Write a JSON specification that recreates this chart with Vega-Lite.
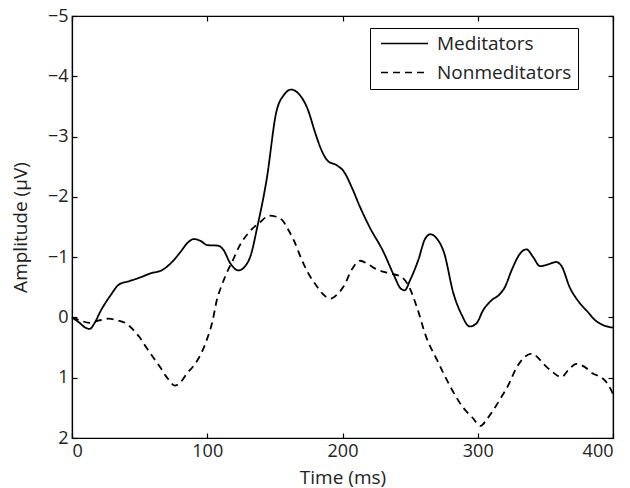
{
  "$schema": "https://vega.github.io/schema/vega-lite/v6.json",
  "autosize": "none",
  "width": 541,
  "height": 422,
  "padding": {"left": 72, "top": 16, "right": 17, "bottom": 50},
  "background": "white",
  "config": {
    "font": "Open Sans",
    "view": {"stroke": "black", "strokeWidth": 1.2},
    "axis": {
      "domainColor": "black", "domainWidth": 1.2,
      "tickColor": "black", "tickWidth": 1.2, "tickSize": -5,
      "labelFont": "Open Sans", "labelFontSize": 18, "labelColor": "#222",
      "titleFont": "Open Sans", "titleFontSize": 19, "titleFontWeight": "normal", "titleColor": "#222",
      "grid": false
    },
    "legend": {
      "labelFont": "Open Sans", "labelFontSize": 19, "labelColor": "#222"
    }
  },
  "data": {"values": [
    {"t":0,"v":0,"g":"Meditators"},{"t":5,"v":0.08,"g":"Meditators"},{"t":10,"v":0.17,"g":"Meditators"},{"t":13,"v":0.19,"g":"Meditators"},{"t":17,"v":0.08,"g":"Meditators"},{"t":21,"v":-0.1,"g":"Meditators"},{"t":28,"v":-0.35,"g":"Meditators"},{"t":35,"v":-0.55,"g":"Meditators"},{"t":42,"v":-0.6,"g":"Meditators"},{"t":50,"v":-0.66,"g":"Meditators"},{"t":58,"v":-0.73,"g":"Meditators"},{"t":67,"v":-0.79,"g":"Meditators"},{"t":74,"v":-0.92,"g":"Meditators"},{"t":80,"v":-1.08,"g":"Meditators"},{"t":86,"v":-1.25,"g":"Meditators"},{"t":90,"v":-1.3,"g":"Meditators"},{"t":95,"v":-1.27,"g":"Meditators"},{"t":100,"v":-1.2,"g":"Meditators"},{"t":108,"v":-1.19,"g":"Meditators"},{"t":112,"v":-1.12,"g":"Meditators"},{"t":117,"v":-0.9,"g":"Meditators"},{"t":123,"v":-0.78,"g":"Meditators"},{"t":128,"v":-0.85,"g":"Meditators"},{"t":132,"v":-1.02,"g":"Meditators"},{"t":137,"v":-1.5,"g":"Meditators"},{"t":144,"v":-2.3,"g":"Meditators"},{"t":151,"v":-3.4,"g":"Meditators"},{"t":157,"v":-3.7,"g":"Meditators"},{"t":162,"v":-3.78,"g":"Meditators"},{"t":168,"v":-3.7,"g":"Meditators"},{"t":174,"v":-3.47,"g":"Meditators"},{"t":180,"v":-3.05,"g":"Meditators"},{"t":184,"v":-2.8,"g":"Meditators"},{"t":189,"v":-2.6,"g":"Meditators"},{"t":196,"v":-2.52,"g":"Meditators"},{"t":201,"v":-2.42,"g":"Meditators"},{"t":207,"v":-2.15,"g":"Meditators"},{"t":213,"v":-1.83,"g":"Meditators"},{"t":220,"v":-1.5,"g":"Meditators"},{"t":230,"v":-1.1,"g":"Meditators"},{"t":238,"v":-0.7,"g":"Meditators"},{"t":243,"v":-0.48,"g":"Meditators"},{"t":246,"v":-0.45,"g":"Meditators"},{"t":250,"v":-0.62,"g":"Meditators"},{"t":256,"v":-0.95,"g":"Meditators"},{"t":261,"v":-1.3,"g":"Meditators"},{"t":265,"v":-1.38,"g":"Meditators"},{"t":270,"v":-1.3,"g":"Meditators"},{"t":275,"v":-1.08,"g":"Meditators"},{"t":282,"v":-0.4,"g":"Meditators"},{"t":288,"v":-0.05,"g":"Meditators"},{"t":294,"v":0.15,"g":"Meditators"},{"t":299,"v":0.1,"g":"Meditators"},{"t":304,"v":-0.12,"g":"Meditators"},{"t":310,"v":-0.28,"g":"Meditators"},{"t":316,"v":-0.38,"g":"Meditators"},{"t":320,"v":-0.5,"g":"Meditators"},{"t":325,"v":-0.78,"g":"Meditators"},{"t":331,"v":-1.05,"g":"Meditators"},{"t":336,"v":-1.13,"g":"Meditators"},{"t":341,"v":-1.0,"g":"Meditators"},{"t":346,"v":-0.85,"g":"Meditators"},{"t":352,"v":-0.88,"g":"Meditators"},{"t":358,"v":-0.92,"g":"Meditators"},{"t":362,"v":-0.85,"g":"Meditators"},{"t":368,"v":-0.5,"g":"Meditators"},{"t":375,"v":-0.25,"g":"Meditators"},{"t":381,"v":-0.1,"g":"Meditators"},{"t":387,"v":0.05,"g":"Meditators"},{"t":393,"v":0.13,"g":"Meditators"},{"t":400,"v":0.17,"g":"Meditators"},
    {"t":0,"v":0,"g":"Nonmeditators"},{"t":6,"v":0.05,"g":"Nonmeditators"},{"t":13,"v":0.09,"g":"Nonmeditators"},{"t":20,"v":0.05,"g":"Nonmeditators"},{"t":27,"v":0.02,"g":"Nonmeditators"},{"t":34,"v":0.05,"g":"Nonmeditators"},{"t":40,"v":0.1,"g":"Nonmeditators"},{"t":45,"v":0.2,"g":"Nonmeditators"},{"t":50,"v":0.33,"g":"Nonmeditators"},{"t":55,"v":0.5,"g":"Nonmeditators"},{"t":60,"v":0.66,"g":"Nonmeditators"},{"t":65,"v":0.82,"g":"Nonmeditators"},{"t":70,"v":0.99,"g":"Nonmeditators"},{"t":76,"v":1.13,"g":"Nonmeditators"},{"t":80,"v":1.08,"g":"Nonmeditators"},{"t":85,"v":0.93,"g":"Nonmeditators"},{"t":90,"v":0.8,"g":"Nonmeditators"},{"t":95,"v":0.62,"g":"Nonmeditators"},{"t":100,"v":0.35,"g":"Nonmeditators"},{"t":104,"v":0.05,"g":"Nonmeditators"},{"t":107,"v":-0.28,"g":"Nonmeditators"},{"t":111,"v":-0.55,"g":"Nonmeditators"},{"t":115,"v":-0.77,"g":"Nonmeditators"},{"t":119,"v":-0.95,"g":"Nonmeditators"},{"t":123,"v":-1.15,"g":"Nonmeditators"},{"t":127,"v":-1.3,"g":"Nonmeditators"},{"t":132,"v":-1.44,"g":"Nonmeditators"},{"t":139,"v":-1.58,"g":"Nonmeditators"},{"t":146,"v":-1.69,"g":"Nonmeditators"},{"t":151,"v":-1.67,"g":"Nonmeditators"},{"t":156,"v":-1.6,"g":"Nonmeditators"},{"t":160,"v":-1.45,"g":"Nonmeditators"},{"t":164,"v":-1.28,"g":"Nonmeditators"},{"t":170,"v":-0.95,"g":"Nonmeditators"},{"t":175,"v":-0.72,"g":"Nonmeditators"},{"t":180,"v":-0.55,"g":"Nonmeditators"},{"t":185,"v":-0.4,"g":"Nonmeditators"},{"t":191,"v":-0.31,"g":"Nonmeditators"},{"t":196,"v":-0.38,"g":"Nonmeditators"},{"t":201,"v":-0.52,"g":"Nonmeditators"},{"t":207,"v":-0.8,"g":"Nonmeditators"},{"t":213,"v":-0.94,"g":"Nonmeditators"},{"t":219,"v":-0.88,"g":"Nonmeditators"},{"t":225,"v":-0.8,"g":"Nonmeditators"},{"t":235,"v":-0.73,"g":"Nonmeditators"},{"t":243,"v":-0.68,"g":"Nonmeditators"},{"t":249,"v":-0.52,"g":"Nonmeditators"},{"t":255,"v":-0.17,"g":"Nonmeditators"},{"t":262,"v":0.33,"g":"Nonmeditators"},{"t":270,"v":0.71,"g":"Nonmeditators"},{"t":280,"v":1.16,"g":"Nonmeditators"},{"t":289,"v":1.49,"g":"Nonmeditators"},{"t":296,"v":1.66,"g":"Nonmeditators"},{"t":302,"v":1.8,"g":"Nonmeditators"},{"t":307,"v":1.68,"g":"Nonmeditators"},{"t":312,"v":1.52,"g":"Nonmeditators"},{"t":318,"v":1.3,"g":"Nonmeditators"},{"t":322,"v":1.15,"g":"Nonmeditators"},{"t":329,"v":0.82,"g":"Nonmeditators"},{"t":335,"v":0.65,"g":"Nonmeditators"},{"t":340,"v":0.6,"g":"Nonmeditators"},{"t":345,"v":0.68,"g":"Nonmeditators"},{"t":349,"v":0.78,"g":"Nonmeditators"},{"t":355,"v":0.9,"g":"Nonmeditators"},{"t":362,"v":0.99,"g":"Nonmeditators"},{"t":367,"v":0.87,"g":"Nonmeditators"},{"t":373,"v":0.77,"g":"Nonmeditators"},{"t":379,"v":0.82,"g":"Nonmeditators"},{"t":385,"v":0.93,"g":"Nonmeditators"},{"t":391,"v":0.99,"g":"Nonmeditators"},{"t":396,"v":1.1,"g":"Nonmeditators"},{"t":400,"v":1.27,"g":"Nonmeditators"}
  ]},
  "layer": [
    {
      "mark": {"type": "line", "color": "black", "strokeWidth": 1.8, "interpolate": "monotone"},
      "encoding": {
        "x": {"field": "t", "type": "quantitative", "scale": {"domain": [0, 400], "nice": false},
              "axis": {"orient": "bottom", "title": "Time (ms)", "values": [0, 100, 200, 300, 400], "labelPadding": 9, "titlePadding": 8}},
        "y": {"field": "v", "type": "quantitative", "scale": {"domain": [-5, 2], "reverse": true, "nice": false, "zero": false},
              "axis": {"orient": "left", "title": "Amplitude (µV)", "values": [-5, -4, -3, -2, -1, 0, 1, 2], "labelPadding": 9, "titlePadding": 17}},
        "strokeDash": {"field": "g", "type": "nominal",
          "scale": {"domain": ["Meditators", "Nonmeditators"], "range": [[1, 0], [7, 5]]},
          "legend": {"title": null, "orient": "none", "legendX": 298, "legendY": 12,
            "strokeColor": "black", "padding": 6, "symbolType": "M-0.68,0H3.08", "symbolSize": 625,
            "clipHeight": 19,
            "symbolStrokeWidth": 1.5, "symbolStrokeColor": "black", "rowPadding": 9, "labelOffset": 34}}
      }
    },
    {
      "mark": {"type": "line", "strokeOpacity": 0},
      "encoding": {
        "x": {"field": "t", "type": "quantitative",
              "axis": {"orient": "top", "title": null, "labels": false, "values": [0, 100, 200, 300, 400]}},
        "y": {"field": "v", "type": "quantitative",
              "axis": {"orient": "right", "title": null, "labels": false, "values": [-5, -4, -3, -2, -1, 0, 1, 2]}},
        "detail": {"field": "g"}
      }
    }
  ],
  "resolve": {"axis": {"x": "independent", "y": "independent"}}
}
